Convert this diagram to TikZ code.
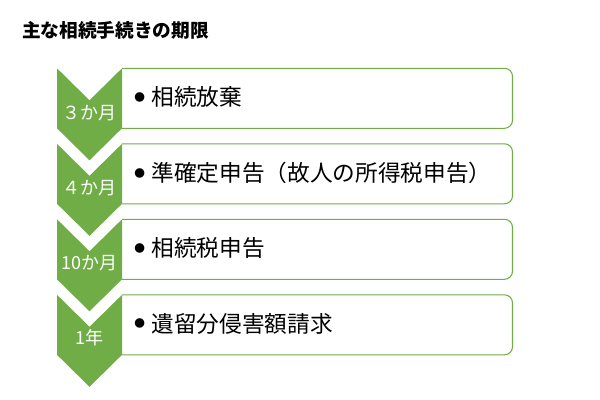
\documentclass[tikz,border=0pt]{standalone}
\usepackage{fontspec}
\setmainfont{Noto Sans CJK JP}
\definecolor{stepgreen}{HTML}{70AD47}
\newcommand{\stepbullet}{\raisebox{3.3pt}{\fontsize{8}{8}\selectfont ●}\hspace{5pt}}

\begin{document}
\begin{tikzpicture}[x=0.75pt, y=-0.75pt,
        chevron/.style={fill=stepgreen},
        boxline/.style={draw=stepgreen, line width=0.8pt, rounded corners=6},
        steptext/.style={anchor=west, inner sep=0pt, font=\fontsize{17}{20}\selectfont},
        steplabel/.style={inner sep=0pt, text=white, font=\fontsize{13.5}{15}\selectfont}]
        \useasboundingbox (0,0) rectangle (600,400);

        % Title
        \node[anchor=west, inner sep=0pt, font=\fontsize{14}{16}\selectfont\bfseries] (title) at (22,30) {主な相続手続きの期限};

        % 3 months
        \begin{scope}[shift={(0,68.3)}]
            \fill[chevron] (57,0) -- (89.5,32) -- (122,0) -- (122,60) -- (89.5,92) -- (57,60) -- cycle;
            \draw[boxline] (122,0) -- (512.5,0) -- (512.5,60) -- (122,60);
            \node[steplabel] (L1) at (89.5,45) {３か月};
            \node[steptext] (T1) at (134,29) {\stepbullet 相続放棄};
        \end{scope}

        % 4 months
        \begin{scope}[shift={(0,143.8)}]
            \fill[chevron] (57,0) -- (89.5,32) -- (122,0) -- (122,60) -- (89.5,92) -- (57,60) -- cycle;
            \draw[boxline] (122,0) -- (512.5,0) -- (512.5,60) -- (122,60);
            \node[steplabel] (L2) at (89.5,44) {４か月};
            \node[steptext] (T2) at (134,29) {\stepbullet 準確定申告（故人の所得税申告）};
        \end{scope}

        % 10 months
        \begin{scope}[shift={(0,219.3)}]
            \fill[chevron] (57,0) -- (89.5,32) -- (122,0) -- (122,60) -- (89.5,92) -- (57,60) -- cycle;
            \draw[boxline] (122,0) -- (512.5,0) -- (512.5,60) -- (122,60);
            \node[steplabel] (L3) at (89.5,44) {10か月};
            \node[steptext] (T3) at (134,29) {\stepbullet 相続税申告};
        \end{scope}

        % 1 year
        \begin{scope}[shift={(0,294.8)}]
            \fill[chevron] (57,0) -- (89.5,32) -- (122,0) -- (122,60) -- (89.5,92) -- (57,60) -- cycle;
            \draw[boxline] (122,0) -- (512.5,0) -- (512.5,60) -- (122,60);
            \node[steplabel] (L4) at (89.5,43) {1年};
            \node[steptext] (T4) at (134,29) {\stepbullet 遺留分侵害額請求};
        \end{scope}
    \end{tikzpicture}
\end{document}
